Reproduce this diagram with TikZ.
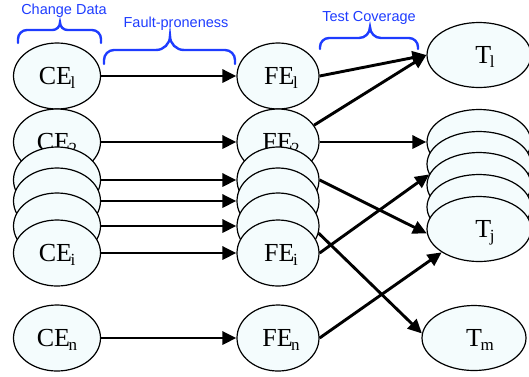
\documentclass[tikz,border=0pt]{standalone}
\usepackage{fontspec}
\setmainfont{Liberation Serif}
\newfontfamily\labelsans{Liberation Sans}
\usetikzlibrary{arrows.meta,shapes.geometric}
\definecolor{cellfill}{RGB}{244,252,253}
\definecolor{braceblue}{RGB}{30,60,255}
% entity name with a lowered index
\newcommand\ent[2]{#1\kern-1.5pt\raisebox{-3.5pt}{\fontsize{17}{17}\selectfont #2}}
% curly brace opening downwards: x0, x1, xmid, ybar, yend, corner radius, tip radius
\newcommand\curlybrace[7]{%
  \draw[brace] (#1,#5) -- (#1,#4+#6) arc[start angle=180,end angle=270,radius=#6]
    -- (#3-#7,#4) arc[start angle=90,end angle=0,radius=#7]
    arc[start angle=180,end angle=90,radius=#7]
    -- (#2-#6,#4) arc[start angle=270,end angle=360,radius=#6] -- (#2,#5);}
\begin{document}
\begin{tikzpicture}[x=1pt,y=-1pt,
  entity/.style={ellipse, draw=black, line width=1.2pt, fill=cellfill, inner sep=0pt,
    text height=17pt, text depth=0pt, font=\fontsize{26}{26}\selectfont},
  ce/.style={entity, minimum width=87pt, minimum height=66pt},
  fe/.style={entity, minimum width=82pt, minimum height=66pt},
  tc/.style={entity, minimum width=104pt, minimum height=65pt},
  flow/.style={line width=2.9pt, -{Triangle[length=14pt,width=13pt]}},
  brace/.style={draw=braceblue, line width=2.4pt, line cap=round},
  caption/.style={text=braceblue, font=\labelsans\fontsize{14.5}{14.5}\selectfont,
    anchor=base, inner sep=0pt}]
\useasboundingbox (0,0) rectangle (529,376);

% change-data entities
\node[ce] (ce1) at (57,76) {\ent{CE}{l}};
\node[ce] (ce2) at (57,142) {\ent{CE}{2}};
\node[ce] (ce3) at (57,180) {};
\node[ce] (ce4) at (57,201) {};
\node[ce] (ce5) at (57,226) {};
\node[ce] (cei) at (57,253) {\ent{CE}{i}};
\node[ce] (cen) at (57,338) {\ent{CE}{n}};

% fault-proneness entities
\node[fe] (fe1) at (278,76) {\hspace*{6pt}\ent{FE}{l}};
\node[fe] (fe2) at (278,142) {\hspace*{6pt}\ent{FE}{2}};
\node[fe] (fe3) at (278,180) {};
\node[fe] (fe4) at (278,201) {};
\node[fe] (fe5) at (278,226) {};
\node[fe] (fei) at (278,253) {\hspace*{6pt}\ent{FE}{i}};
\node[fe] (fen) at (278,338) {\hspace*{6pt}\ent{FE}{n}};

% tests
\node[tc] (t1) at (479,55) {\hspace*{12pt}\ent{T}{l}};
\node[tc] (ts1) at (479,142) {};
\node[tc] (ts2) at (479,164) {};
\node[tc] (ts3) at (479,185) {};
\node[tc] (ts4) at (479,207) {};
\node[tc] (tj) at (479,229) {\hspace*{12pt}\ent{T}{j}};
\node[tc] (tm) at (474,338) {\hspace*{12pt}\ent{T}{m}};

% change data -> fault-proneness
\draw[flow] (ce1) -- (fe1);
\draw[flow] (ce2) -- (fe2);
\draw[flow] (ce3) -- (fe3);
\draw[flow] (ce4) -- (fe4);
\draw[flow] (ce5) -- (fe5);
\draw[flow] (cei) -- (fei);
\draw[flow] (cen) -- (fen);

% fault-proneness -> test coverage
\draw[flow] (fe1.east) -- (t1.west);
\draw[flow] (fe2.25) -- (t1.west);
\draw[flow] (fe2) -- (ts1);
\draw[flow] (fe3.east) -- (tj.185);
\draw[flow] (fei.east) -- (ts3.168);
\draw[flow] (fe5.350) -- (tm.175);
\draw[flow] (fen.east) -- (tj.212);

% group braces and their captions
\curlybrace{18}{101}{60}{30}{43}{9}{7.5}
\curlybrace{104}{235}{170}{50}{64}{10}{14}
\curlybrace{320}{418}{370}{38}{49}{9}{11}
\node[caption] (cd) at (64,14) {Change Data};
\node[caption] (fp) at (176,27) {Fault-proneness};
\node[caption] (tcv) at (369,21) {Test Coverage};
\end{tikzpicture}
\end{document}
